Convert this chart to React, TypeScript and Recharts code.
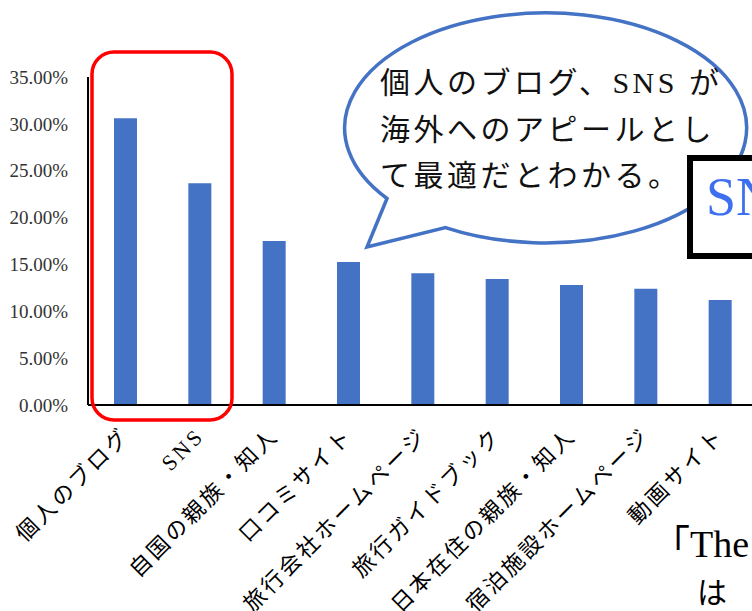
import React from 'react';
import { BarChart, Bar, XAxis, YAxis } from 'recharts';

// 情報源ごとの割合 (%)
const categories = [
  '個人のブログ',
  'SNS',
  '自国の親族・知人',
  '口コミサイト',
  '旅行会社ホームページ',
  '旅行ガイドブック',
  '日本在住の親族・知人',
  '宿泊施設ホームページ',
  '動画サイト',
];
const shares = [30.6, 23.65, 17.5, 15.25, 14.05, 13.45, 12.8, 12.4, 11.2];
const yTicks = [0, 5, 10, 15, 20, 25, 30, 35];

const bubbleLines = ['個人のブログ、SNS が', '海外へのアピールとし', 'て最適だとわかる。'];

const chartData = categories.map((name, i) => ({ name, value: shares[i] }));

const SERIF = "'Liberation Serif', 'Noto Sans CJK JP', serif";

const CategoryTick = (props: any) => {
  const { x, y, payload } = props;
  return (
    <g transform={`translate(${x + 6},${y + 24})`}>
      <text
        transform="rotate(-45)"
        textAnchor="end"
        fontSize={22}
        letterSpacing={3}
        fontFamily={SERIF}
        fill="#000"
      >
        {payload.value}
      </text>
    </g>
  );
};

export default function App() {
  return (
    <div
      style={{
        position: 'fixed',
        left: 0,
        top: 0,
        width: 752,
        height: 611,
        overflow: 'hidden',
        background: '#fff',
      }}
    >
      <BarChart
        width={760}
        height={611}
        data={chartData}
        margin={{ top: 77, right: 3, bottom: 0, left: 0 }}
      >
        <XAxis
          dataKey="name"
          height={206}
          interval={0}
          axisLine={{ stroke: '#000', strokeWidth: 2 }}
          tickLine={false}
          tick={<CategoryTick />}
        />
        <YAxis
          width={88}
          domain={[0, 35]}
          ticks={yTicks}
          interval={0}
          axisLine={{ stroke: '#000', strokeWidth: 2 }}
          tickLine={false}
          tickMargin={14}
          tick={{ fill: '#333', fontSize: 19, fontFamily: SERIF }}
          tickFormatter={(v: number) => `${v.toFixed(2)}%`}
        />
        <Bar dataKey="value" fill="#4472C4" barSize={23} isAnimationActive={false} />
      </BarChart>

      {/* annotations */}
      <svg
        width={752}
        height={611}
        style={{ position: 'absolute', left: 0, top: 0, pointerEvents: 'none' }}
      >
        <rect x={92} y={52} width={140} height={368} rx={22} fill="none" stroke="#FF0000" strokeWidth={3.5} />

        <path
          d="M 387 198.5 L 367 247 L 445.5 227.6 A 201 115 0 1 0 387 198.5 Z"
          fill="#fff"
          stroke="#4472C4"
          strokeWidth={3.5}
          strokeLinejoin="miter"
        />
        {bubbleLines.map((line, i) => (
          <text
            key={i}
            x={380}
            y={93 + i * 46.5}
            fontSize={30}
            letterSpacing={3.5}
            fontFamily={SERIF}
            fill="#111"
          >
            {line}
          </text>
        ))}

        <rect x={690} y={158} width={100} height={98} fill="#fff" stroke="#000" strokeWidth={6} />
        <text x={706} y={215} fontSize={54} fontFamily={SERIF} fill="#3D6FEF">
          SNS
        </text>

        <text x={652} y={557} fontSize={38} fontFamily={SERIF} fill="#000">
          「The
        </text>
        <text x={697} y={603} fontSize={30} letterSpacing={6} fontFamily={SERIF} fill="#000">
          は「
        </text>
      </svg>
    </div>
  );
}
